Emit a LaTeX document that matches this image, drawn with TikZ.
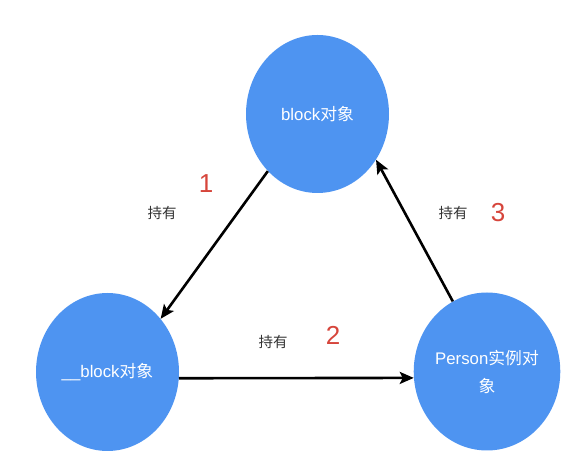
\documentclass[tikz,border=0pt]{standalone}
\usepackage{fontspec}
\setmainfont{Liberation Sans}
\newfontfamily\cjk{Noto Sans CJK SC}
\usepackage{xcolor}
\usepackage{tikz}
\usetikzlibrary{positioning,arrows.meta,shapes.geometric}

\definecolor{objblue}{RGB}{78,148,241}
\definecolor{numred}{RGB}{214,69,59}
\definecolor{txtgray}{RGB}{51,51,51}

\begin{document}
\begin{tikzpicture}[x=1pt, y=1pt,
        obj/.style={ellipse, fill=objblue, minimum width=143pt, minimum height=158pt, inner sep=0pt,
            text=white, font=\fontsize{16.8}{28}\selectfont, align=center},
        hold/.style={font=\cjk\fontsize{14.5}{16}\selectfont, text=txtgray},
        num/.style={font=\fontsize{26}{28}\selectfont, text=numred},
        ref/.style={-{Stealth[length=14pt, width=12pt, inset=3pt]}, line width=2.6pt},
    ]
        \useasboundingbox (0,0) rectangle (586,460);
        \node[obj] (blk)    at (317.5,346) {block{\cjk 对象}};
        \node[obj] (byref)  at (107.5,88)  {\_\_block{\cjk 对象}};
        \node[obj] (person) at (487,88.5)  {Person{\cjk 实例对}\\{\cjk 象}};
        % ownership arrows
        \draw[ref] (blk.229) -- (byref.45);
        \draw[ref] (byref.-5) -- (person.185);
        \draw[ref] (person.116) -- (blk.-38);
        \node[hold] (h1) at (162,247) {持有};
        \node[num]  (n1) at (206,276) {1};
        \node[hold] (h2) at (273,118) {持有};
        \node[num]  (n2) at (333,125) {2};
        \node[hold] (h3) at (453,247) {持有};
        \node[num]  (n3) at (498,247) {3};
    \end{tikzpicture}
\end{document}
